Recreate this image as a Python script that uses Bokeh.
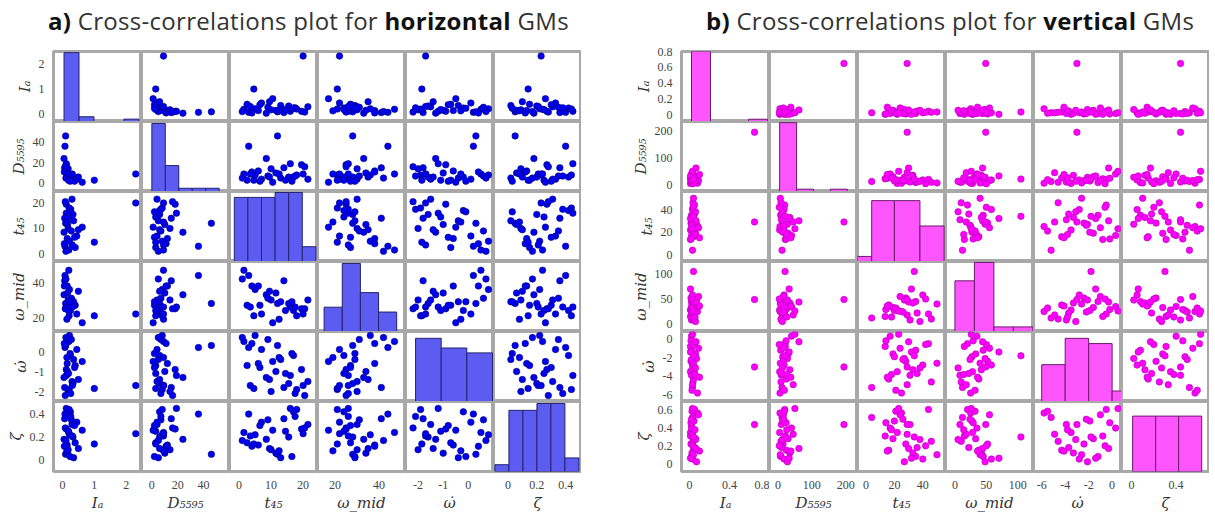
import numpy as np
from bokeh.plotting import figure
from bokeh.layouts import gridplot, row, column
from bokeh.models import (Div, Range1d, FixedTicker, PrintfTickFormatter,
                          ColumnDataSource, LinearAxis)
from bokeh.embed import file_html
from bokeh.resources import INLINE

var_labels = ["Iₐ", "D₅₅₉₅", "t₄₅", "ω_mid", "ω̇", "ζ"]

# ---------------- a) horizontal GMs ----------------
Ia_h = [0.05, 0.08, 0.10, 0.12, 0.15, 0.07, 0.20, 0.25, 0.18, 0.30, 0.22, 0.35, 0.12, 0.40, 0.28, 0.09,
        0.16, 0.45, 0.33, 0.06, 0.21, 0.14, 0.38, 0.26, 0.11, 0.19, 0.50, 0.24, 0.31, 0.62, 1.00, 2.30]
D_h = [24, 36, 46, 18, 12, 15, 9, 6, 14, 4, 8, 5, 19, 3, 7, 16,
       10, 4, 6, 11, 8, 9, 2, 7, 5, 3, 6, 2, 9, 1, 3, 9]
t45_h = [8.5, 3.0, 12.0, 19.5, 6.0, 14.0, 1.5, 17.0, 10.0, 21.5, 5.0, 13.0, 16.0, 2.5, 9.0, 20.5,
         11.5, 7.0, 15.5, 4.0, 18.0, 12.5, 6.5, 17.5, 1.0, 14.5, 9.5, 16.5, 3.5, 10.5, 4.6, 20.0]
wmid_h = [33, 44, 28, 25, 38, 41, 47, 24, 30, 30, 36, 29, 26, 27, 31, 25,
          34, 22, 28, 38, 21, 19, 27, 26, 42, 24, 35, 29, 26, 17, 21, 22]
wdot_h = [-1.3, 0.2, 0.3, -0.9, -0.6, -1.8, 0.5, -0.2, -2.0, -1.5, 0.8, -0.4, -1.2, -0.7, 0.6, -2.2,
          -1.0, 0.1, -1.6, 0.4, -1.9, -0.3, -0.8, -2.1, 0.7, -1.1, -1.4, -0.1, -1.7, -0.5, -1.85, -1.7]
zeta_h = [0.18, 0.40, 0.05, 0.27, 0.13, 0.36, 0.24, 0.42, 0.09, 0.31, 0.22, 0.02, 0.45, 0.15, 0.35, 0.28,
          0.06, 0.33, 0.20, 0.12, 0.44, 0.08, 0.30, 0.38, 0.17, 0.25, 0.10, 0.03, 0.21, 0.26, 0.14, 0.23]

hist_edges_h = [
    [0.05, 0.52, 0.99, 1.46, 1.93, 2.40],
    [0, 10.4, 20.8, 31.2, 41.6, 52.0],
    [-1.5, 2.75, 7.0, 11.25, 15.5, 19.75, 24.0],
    [15, 23.25, 31.5, 39.75, 48],
    [-2.1, -1.08, -0.06, 0.96],
    [-0.09, 0.007, 0.104, 0.201, 0.298, 0.395, 0.492],
]
hist_counts_h = [[29, 2, 0, 0, 1], [21, 8, 1, 1, 1], [13, 13, 13, 14, 14, 3],
                 [5, 14, 8, 4], [13, 11, 10], [1, 9, 9, 10, 10, 2]]
hist_top_h = [29.5, 21.6, 14.2, 14.4, 14.4, 10.3]
ranges_h = [(-0.28, 2.48), (-8, 60), (-3, 24.5), (12, 52), (-2.5, 1.0), (-0.1, 0.51)]
xticks_h = [[0, 1, 2], [0, 20, 40], [0, 10, 20], [20, 40], [-2, -1, 0], [0, 0.2, 0.4]]
yticks_h = xticks_h

# ---------------- b) vertical GMs ----------------
Ia_v = [0.01, 0.02, 0.03, 0.015, 0.05, 0.04, 0.02, 0.06, 0.03, 0.08, 0.01, 0.025, 0.045, 0.035, 0.07, 0.02,
        0.05, 0.09, 0.03, 0.04, 0.015, 0.06, 0.025, 0.01, 0.055, 0.035, 0.02, 0.10, 0.04, 0.03, 0.065, 0.65]
D_v = [5, 8, 12, 15, 20, 25, 10, 30, 18, 6, 22, 35, 14, 9, 28, 40,
       11, 16, 45, 7, 24, 13, 19, 33, 26, 4, 17, 38, 21, 50, 62, 195]
t45_v = [22, 35, 4, 28, 44, 16, 31, 19, 40, 25, 13.5, 33, 20, 46, 27, 17,
         36, 24, 29, 50, 14, 38, 21, 32, 18, 42, 26, 15, 34, 23, 30, 29]
wmid_v = [28, 45, 12, 52, 20, 38, 8, 33, 58, 25, 15, 42, 27, 10, 48, 35,
          22, 55, 18, 40, 29, 5, 32, 70, 14, 50, 24, 36, 105, 26, 44, 49]
wdot_v = [-3.5, -1.2, -5.2, -2.4, -0.5, -4.3, -3.9, -1.6, -2.8, -5.8, -0.8, -3.3, -1.9, -4.6, -2.1, 0.3,
          -3.7, -1.0, -4.9, -2.6, -0.2, -3.1, -5.5, -1.4, -3.8, -0.6, -2.2, -4.1, -1.8, 0.5, -0.3, -3.0]
zeta_v = [0.35, 0.08, 0.52, 0.22, 0.61, 0.15, 0.44, 0.28, 0.05, 0.57, 0.31, 0.12, 0.48, 0.25, 0.02, 0.40,
          0.18, 0.55, 0.33, 0.10, 0.46, 0.27, 0.59, 0.06, 0.38, 0.20, 0.50, 0.14, 0.30, 0.62, 0.17, 0.44]

hist_edges_v = [
    [0.02, 0.21, 0.40, 0.59, 0.78],
    [5, 55, 105, 155, 205],
    [-6, 4, 20, 38, 55],
    [0, 31, 62, 93, 124],
    [-6, -4, -2, 0, 2],
    [0.01, 0.217, 0.423, 0.63],
]
hist_counts_v = [[31, 0, 0, 1], [30, 1, 0, 1], [1, 12, 12, 7], [11, 15, 1, 1], [7, 12, 11, 2], [11, 11, 11]]
hist_top_v = [31, 30.5, 13.8, 15.2, 13.3, 13.9]
ranges_v = [(-0.08, 0.8), (-25, 235), (-6, 56), (-15, 125), (-6.7, 0.8), (-0.09, 0.7)]
xticks_v = [[0, 0.4, 0.8], [0, 100, 200], [0, 20, 40], [0, 50, 100], [-6, -4, -2, 0], [0, 0.4]]
yticks_v = [[0, 0.2, 0.4, 0.6, 0.8], [0, 100, 200], [0, 20, 40], [0, 50, 100], [-6, -4, -2, 0], [0, 0.2, 0.4, 0.6]]

CELL_W, CELL_H = 88, 70
BOTTOM = 42
TOP = 8


def style_axis(ax, ticks, label):
    ax.ticker = FixedTicker(ticks=ticks)
    ax.formatter = PrintfTickFormatter(format="%g")
    ax.axis_label = label
    ax.axis_label_text_font = "DejaVu Serif"
    ax.axis_label_text_font_style = "italic"
    ax.axis_label_text_font_size = "15px"
    ax.axis_label_text_color = "#333333"
    ax.axis_label_standoff = 2
    ax.major_label_text_font = "Liberation Serif"
    ax.major_label_text_font_size = "12px"
    ax.major_label_text_color = "#444444"
    ax.major_label_standoff = 3
    ax.major_tick_line_color = None
    ax.minor_tick_line_color = None
    ax.axis_line_color = None


def build_matrix(cols, ranges, xticks, yticks, edges, counts, tops,
                 mfill, mline, bfill, bline, left_border):
    src = ColumnDataSource({f"v{k}": cols[k] for k in range(6)})
    grid = []
    for i in range(6):
        r = []
        for j in range(6):
            diag = i == j
            yr = Range1d(0, tops[i]) if diag else Range1d(*ranges[i])
            p = figure(frame_width=CELL_W, frame_height=CELL_H,
                       x_range=Range1d(*ranges[j]), y_range=yr,
                       output_backend="svg", toolbar_location=None,
                       x_axis_location="below" if i == 5 else None,
                       y_axis_location="left" if (j == 0 and not diag) else None,
                       min_border_left=left_border if j == 0 else 0,
                       min_border_right=0,
                       min_border_top=TOP if i == 0 else 0,
                       min_border_bottom=BOTTOM if i == 5 else 0,
                       background_fill_color="white", border_fill_color="white")
            p.xgrid.grid_line_color = None
            p.ygrid.grid_line_color = None
            p.outline_line_color = "#a8a8a8"
            p.outline_line_width = 3
            if diag:
                e = edges[i]
                p.quad(left=e[:-1], right=e[1:], bottom=0, top=counts[i],
                       fill_color=bfill, line_color=bline, line_width=1)
            else:
                p.scatter(x=f"v{j}", y=f"v{i}", source=src, size=6.5,
                          fill_color=mfill, line_color=mline, line_width=0.6)
            if i == 5:
                style_axis(p.xaxis[0], xticks[j], var_labels[j])
            if j == 0:
                if diag:
                    p.extra_y_ranges = {"var": Range1d(*ranges[0])}
                    ax = LinearAxis(y_range_name="var")
                    p.add_layout(ax, "left")
                    style_axis(ax, yticks[0], var_labels[0])
                else:
                    style_axis(p.yaxis[0], yticks[i], var_labels[i])
            r.append(p)
        grid.append(r)
    return gridplot(grid, toolbar_location=None)


cols_h = [Ia_h, D_h, t45_h, wmid_h, wdot_h, zeta_h]
cols_v = [Ia_v, D_v, t45_v, wmid_v, wdot_v, zeta_v]

grid_a = build_matrix(cols_h, ranges_h, xticks_h, yticks_h, hist_edges_h, hist_counts_h, hist_top_h,
                      "#0000f0", "#00007a", "#5c5cf2", "#23236e", 53)
grid_b = build_matrix(cols_v, ranges_v, xticks_v, yticks_v, hist_edges_v, hist_counts_v, hist_top_v,
                      "#ff00ff", "#b000b0", "#ff55ff", "#6a1a6a", 90)

title_style = ("text-align:left;font-family:'Open Sans';font-size:24px;letter-spacing:0.3px;"
               "color:#333333;line-height:1.25;padding-top:1px;white-space:nowrap;")
title_a = Div(text=f'<div style="margin-left:43px;{title_style}"><b style="color:#111">a)</b> '
                   'Cross-correlations plot for <b style="color:#111">horizontal</b> GMs</div>',
              width=53 + 6 * CELL_W, height=41 - TOP)
title_b = Div(text=f'<div style="margin-left:110px;{title_style}"><b style="color:#111">b)</b> '
                   'Cross-correlations plot for <b style="color:#111">vertical</b> GMs</div>',
              width=90 + 6 * CELL_W, height=41 - TOP)

layout = row(column(title_a, grid_a), column(title_b, grid_b))

open("out.html", "w").write(file_html(layout, INLINE, title="Cross-correlations"))
